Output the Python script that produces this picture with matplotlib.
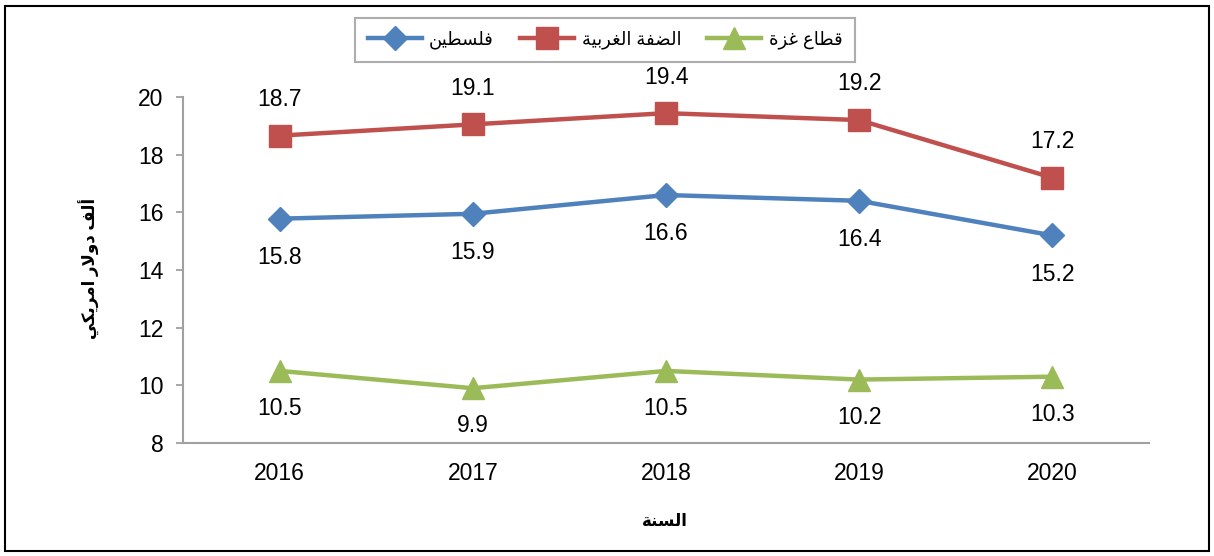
import matplotlib
matplotlib.use('Agg')
import matplotlib.pyplot as plt
import matplotlib.patches as patches

years = ['2016', '2017', '2018', '2019', '2020']
palestine = [15.8, 15.9, 16.6, 16.4, 15.2]
west_bank = [18.7, 19.1, 19.4, 19.2, 17.2]
gaza = [10.5, 9.9, 10.5, 10.2, 10.3]
# plotted positions differ slightly from the rounded labels
palestine_y = [15.78, 15.95, 16.6, 16.4, 15.2]
west_bank_y = [18.66, 19.05, 19.44, 19.2, 17.2]
gaza_y = [10.5, 9.9, 10.5, 10.2, 10.3]

names = ['فلسطين', 'الضفة الغربية', 'قطاع غزة']
xlabel = 'السنة'
ylabel = 'ألف دولار امريكي'

# simple arabic shaping (matplotlib has no complex text layout)
DUAL = {'ب': 0xFE8F, 'س': 0xFEB1, 'ض': 0xFEBD, 'ط': 0xFEC1, 'ع': 0xFEC9,
        'غ': 0xFECD, 'ف': 0xFED1, 'ق': 0xFED5, 'ك': 0xFED9, 'ل': 0xFEDD,
        'م': 0xFEE1, 'ن': 0xFEE5, 'ي': 0xFEF1}
RIGHT = {'ا': 0xFE8D, 'أ': 0xFE83, 'ة': 0xFE93, 'د': 0xFEA9, 'ر': 0xFEAD,
         'ز': 0xFEAF, 'و': 0xFEED}
LAMALEF = {'ا': 0xFEFB, 'أ': 0xFEF7}


def shape(s):
    out = []
    i = 0
    while i < len(s):
        c = s[i]
        prev = s[i-1] if i > 0 else ''
        nxt = s[i+1] if i+1 < len(s) else ''
        join_prev = prev in DUAL
        if c == 'ل' and nxt in LAMALEF:
            out.append(chr(LAMALEF[nxt] + (1 if join_prev else 0)))
            i += 2
            continue
        if c in DUAL:
            join_next = nxt in DUAL or nxt in RIGHT
            if join_prev and join_next:
                k = 3
            elif join_prev:
                k = 1
            elif join_next:
                k = 2
            else:
                k = 0
            out.append(chr(DUAL[c] + k))
        elif c in RIGHT:
            out.append(chr(RIGHT[c] + (1 if join_prev else 0)))
        else:
            out.append(c)
        i += 1
    return ''.join(out)[::-1]


plt.rcParams['font.family'] = ['Liberation Sans', 'DejaVu Sans']

fig = plt.figure(figsize=(12.14, 5.56), dpi=100)
ax = fig.add_axes([183/1214, 113/556, 966/1214, 346/556])

x = [i + 0.5 for i in range(len(years))]
c_blue, c_red, c_green = '#4F81BD', '#C0504D', '#9BBB59'

ax.plot(x, palestine_y, color=c_blue, lw=3.2, marker='D', ms=12, label=shape(names[0]))
ax.plot(x, west_bank_y, color=c_red, lw=3.2, marker='s', ms=15.5, label=shape(names[1]))
ax.plot(x, gaza_y, color=c_green, lw=3.2, marker='^', ms=16, label=shape(names[2]))

fs = 16.5
for xi, v, yv in zip(x, palestine, palestine_y):
    ax.annotate(f'{v:.1f}', (xi, yv), xytext=(0, -28), textcoords='offset points',
                ha='center', va='center', fontsize=fs)
for xi, v, yv in zip(x, west_bank, west_bank_y):
    ax.annotate(f'{v:.1f}', (xi, yv), xytext=(0, 26), textcoords='offset points',
                ha='center', va='center', fontsize=fs)
for xi, v, yv in zip(x, gaza, gaza_y):
    ax.annotate(f'{v:.1f}', (xi, yv), xytext=(0, -27), textcoords='offset points',
                ha='center', va='center', fontsize=fs)

ax.set_xlim(0, 5)
ax.set_ylim(8, 20)
ax.set_yticks(range(8, 21, 2))
ax.set_xticks(x)
ax.set_xticklabels(years)
ax.tick_params(axis='x', length=0, labelsize=fs, pad=14)
ax.tick_params(axis='y', length=5, width=1.3, color='#A0A0A0', labelsize=fs, pad=9)
for sp in ['top', 'right']:
    ax.spines[sp].set_visible(False)
for sp in ['left', 'bottom']:
    ax.spines[sp].set_color('#A0A0A0')
    ax.spines[sp].set_linewidth(1.5)

fig.text(665/1214, 1 - 521/556, shape(xlabel), ha='center', va='center',
         fontsize=12, fontweight='bold')
fig.text(89/1214, 1 - 268/556, shape(ylabel), ha='center', va='center',
         fontsize=12, fontweight='bold', rotation=90)

leg = fig.legend(loc='center', bbox_to_anchor=(605/1214, 1 - 40/556), ncol=3,
                 fontsize=13, frameon=True, fancybox=False, handlelength=3.0,
                 columnspacing=1.45, handletextpad=0.4, borderpad=0.7)
leg.get_frame().set_edgecolor('#999999')
leg.get_frame().set_linewidth(1.5)

# outer border
fig.patches.append(patches.Rectangle((5/1214, 5/556), 1204/1214, 545/556,
                                     transform=fig.transFigure, fill=False,
                                     edgecolor='black', lw=1.5))

fig.savefig('out.png', dpi=100)
